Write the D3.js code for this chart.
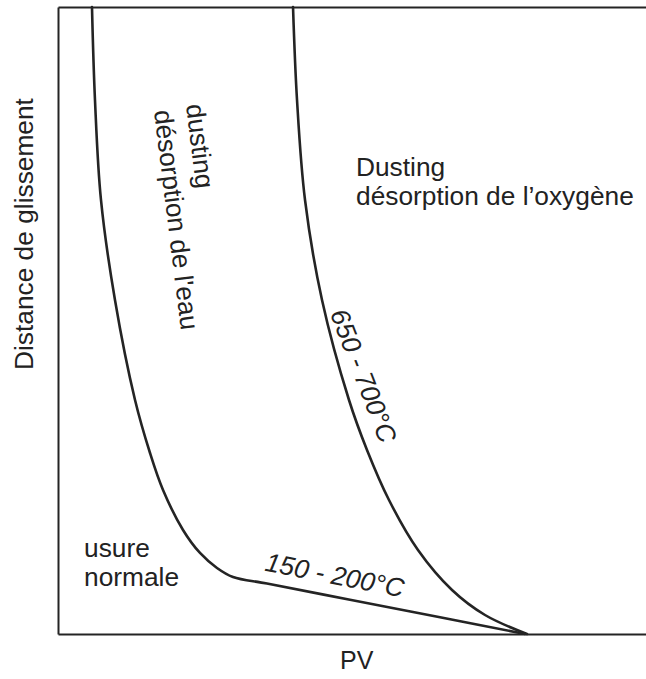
<!DOCTYPE html>
<html>
<head>
<meta charset="utf-8">
<script src="https://cdn.jsdelivr.net/npm/d3@7"></script>
<style>
  html, body { margin: 0; padding: 0; background: #fff; }
  svg { display: block; }
  text { font-family: "Liberation Sans", Arial, Helvetica, sans-serif; fill: #222; }
</style>
</head>
<body>
<svg id="chart" width="646" height="679"></svg>
<script>
// Qualitative wear map: sliding distance versus PV product (no numeric scale).
const pvDomain = [0, 100];
const distanceDomain = [0, 100];

// Transition boundary 150 - 200°C (water desorption)
const waterPV       = [5.78, 6.29, 7.31, 9.69, 13.10, 15.65, 17.86, 21.26, 24.15, 27.04, 29.76, 35.54, 49.66, 64.97, 79.42];
const waterDistance = [100, 85.17, 69.22, 53.27, 37.32, 28.87, 22.97, 16.59, 12.92, 10.53, 9.09, 8.04, 5.47, 2.68, 0];

// Transition boundary 650 - 700°C (oxygen desorption)
const oxygenPV       = [39.97, 40.65, 42.01, 44.90, 49.49, 52.55, 56.29, 61.22, 67.01, 72.62, 79.76];
const oxygenDistance = [100, 85.17, 69.22, 53.27, 37.32, 29.35, 21.37, 13.40, 7.02, 3.03, 0];

const axisLabels = { x: "PV", y: "Distance de glissement" };
const curveLabels = ["150 - 200°C", "650 - 700°C"];
const regionLabels = {
  normal: ["usure", "normale"],
  water: ["dusting", "désorption de l'eau"],
  oxygen: ["Dusting", "désorption de l\u2019oxygène"]
};

const svg = d3.select("#chart");
const frame = { left: 58, top: 7, right: 646, bottom: 634 };

const x = d3.scaleLinear().domain(pvDomain).range([frame.left, frame.right]);
const y = d3.scaleLinear().domain(distanceDomain).range([frame.bottom, frame.top]);

const ink = "#242424";

// Curves
const line = d3.line()
  .x(d => x(d[0]))
  .y(d => y(d[1]))
  .curve(d3.curveCatmullRom.alpha(0.5));

const series = [
  d3.zip(waterPV, waterDistance),
  d3.zip(oxygenPV, oxygenDistance)
];

svg.append("g")
  .selectAll("path")
  .data(series)
  .join("path")
  .attr("d", line)
  .attr("fill", "none")
  .attr("stroke", ink)
  .attr("stroke-width", 2.6)
  .attr("stroke-linejoin", "round")
  .attr("stroke-linecap", "round");

// Axes drawn as bare lines (no ticks)
const xAxis = d3.axisBottom(x).tickValues([]).tickSizeOuter(0);
const yAxis = d3.axisLeft(y).tickValues([]).tickSizeOuter(0);
const gx = svg.append("g").attr("transform", `translate(0,${frame.bottom})`).call(xAxis);
const gy = svg.append("g").attr("transform", `translate(${frame.left},0)`).call(yAxis);
const gt = svg.append("g").attr("transform", `translate(0,${frame.top})`).call(d3.axisTop(x).tickValues([]).tickSizeOuter(0));
[gx, gy, gt].forEach(g => g.select(".domain").attr("stroke", ink).attr("stroke-width", 2));

// Axis titles
svg.append("text")
  .attr("x", 340).attr("y", 669)
  .attr("font-size", 25)
  .text(axisLabels.x);

svg.append("text")
  .attr("transform", "translate(33,370) rotate(-90)")
  .attr("font-size", 26.3)
  .text(axisLabels.y);

// Region labels
const fs = 26.3;
regionLabels.normal.forEach((t, i) => {
  svg.append("text")
    .attr("x", 84).attr("y", 557 + i * 29)
    .attr("font-size", fs)
    .text(t);
});

regionLabels.oxygen.forEach((t, i) => {
  svg.append("text")
    .attr("x", 356).attr("y", 176 + i * 29)
    .attr("font-size", fs)
    .text(t);
});

const waterStarts = [[186, 105], [154, 111]];
regionLabels.water.forEach((t, i) => {
  svg.append("text")
    .attr("transform", `translate(${waterStarts[i][0]},${waterStarts[i][1]}) rotate(83)`)
    .attr("font-size", fs)
    .text(t);
});

// Temperature labels along the curves
svg.append("text")
  .attr("transform", "translate(333,584) rotate(11)")
  .attr("text-anchor", "middle")
  .attr("font-size", fs)
  .attr("font-style", "italic")
  .text(curveLabels[0]);

svg.append("text")
  .attr("transform", "translate(355,379) rotate(69)")
  .attr("text-anchor", "middle")
  .attr("font-size", fs)
  .attr("font-style", "italic")
  .text(curveLabels[1]);
</script>
</body>
</html>
